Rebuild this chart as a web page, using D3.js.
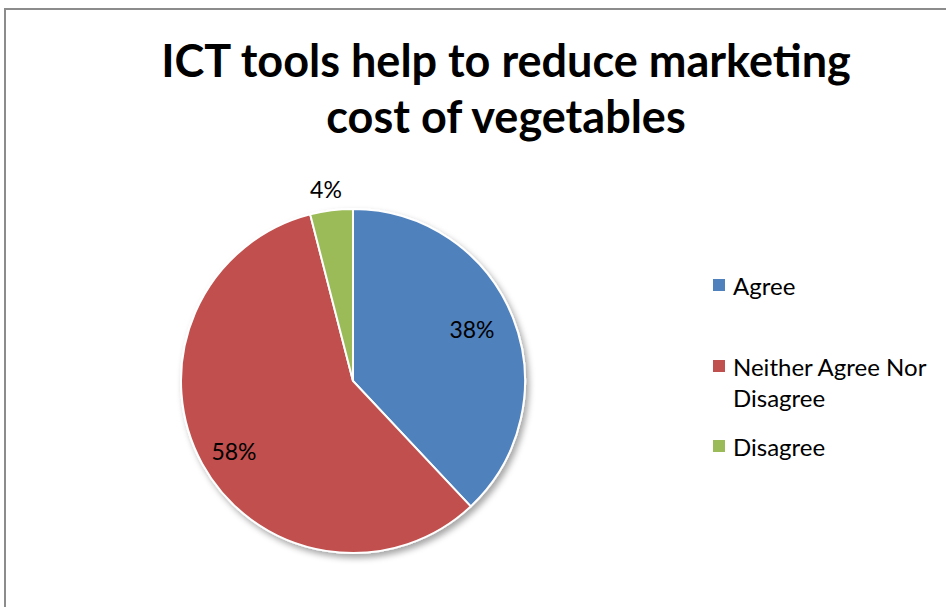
<!DOCTYPE html>
<html><head><meta charset="utf-8">
<script src="https://cdn.jsdelivr.net/npm/d3@7"></script>
<style>body{margin:0;background:#fff;}svg{display:block;}</style>
</head><body>
<script>
const categories = ["Agree", "Neither Agree Nor Disagree", "Disagree"];
const values = [38, 58, 4];
const labels = ["38%", "58%", "4%"];
const colors = ["#4F81BD", "#C0504D", "#9BBB59"];
const titleLines = ["ICT tools help to reduce marketing", "cost of vegetables"];

const W = 946, H = 607;
const svg = d3.select("body").append("svg").attr("width", W).attr("height", H);
const font = "Lato, 'Open Sans', sans-serif";

svg.append("rect").attr("x", 5).attr("y", 9).attr("width", W + 10).attr("height", H + 10)
  .attr("fill", "#fff").attr("stroke", "#8c8c8c").attr("stroke-width", 2);

const defs = svg.append("defs");
const f = defs.append("filter").attr("id", "sh").attr("x", "-20%").attr("y", "-20%").attr("width", "140%").attr("height", "140%");
f.append("feDropShadow").attr("dx", 3).attr("dy", 4).attr("stdDeviation", 3).attr("flood-color", "#000").attr("flood-opacity", 0.35);

svg.append("g").selectAll("text").data(titleLines).join("text")
  .attr("x", 506).attr("y", (d, i) => 77 + i * 56)
  .attr("text-anchor", "middle").attr("font-family", font).attr("font-weight", "bold")
  .attr("font-size", 45).attr("fill", "#000").text(d => d);

const cx = 353, cy = 381, r = 172;
const pie = d3.pie().sort(null).value(d => d)(values);
const arc = d3.arc().innerRadius(0).outerRadius(r);
const g = svg.append("g").attr("transform", `translate(${cx},${cy})`);
g.append("g").attr("filter", "url(#sh)").selectAll("path").data(pie).join("path")
  .attr("d", arc).attr("fill", (d, i) => colors[i]).attr("stroke", "#fff").attr("stroke-width", 2);

const labelPos = [[119, -52], [-119, 70], [-27, -192]];
g.selectAll("text.l").data(pie).join("text").attr("class", "l")
  .attr("x", (d, i) => labelPos[i][0]).attr("y", (d, i) => labelPos[i][1])
  .attr("text-anchor", "middle").attr("dominant-baseline", "central")
  .attr("font-family", font).attr("font-size", 23).attr("fill", "#000")
  .text((d, i) => labels[i]);

const legY = [285, 366, 446];
const lg = svg.append("g");
categories.forEach((c, i) => {
  lg.append("rect").attr("x", 713).attr("y", legY[i] - 6).attr("width", 12).attr("height", 12).attr("fill", colors[i]);
  const t = lg.append("text").attr("x", 733).attr("y", legY[i]).attr("dominant-baseline", "central")
    .attr("font-family", font).attr("font-size", 24).attr("fill", "#000");
  if (i === 1) {
    t.append("tspan").attr("x", 733).text("Neither Agree Nor");
    t.append("tspan").attr("x", 733).attr("dy", 31).text("Disagree");
  } else t.text(c);
});
</script>
</body></html>
